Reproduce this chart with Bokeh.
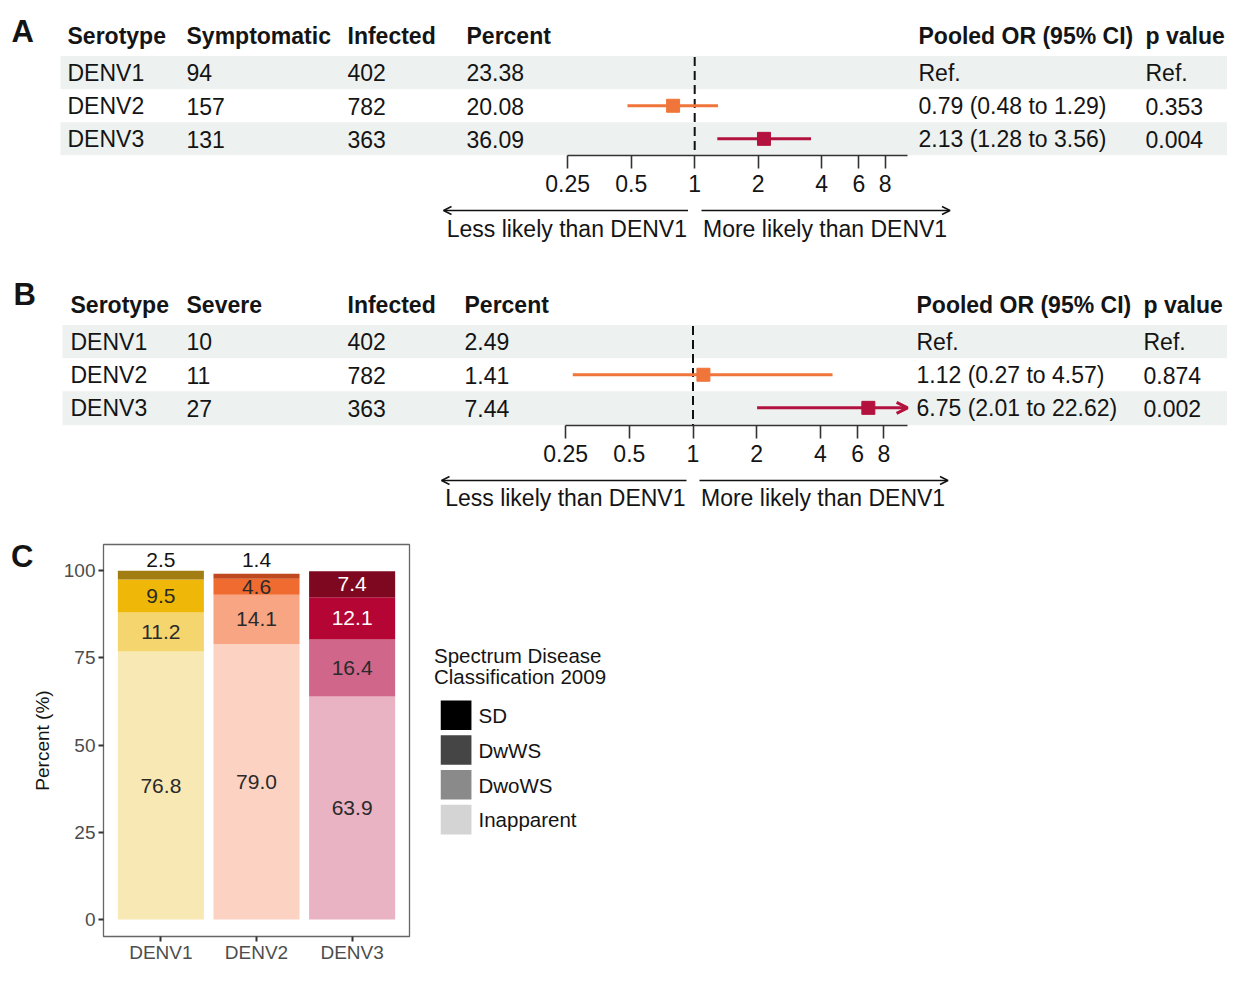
from bokeh.plotting import figure
from bokeh.models import (Range1d, FactorRange, LogScale, LogAxis, LinearAxis, FixedTicker,
                          CustomJSTickFormatter, Arrow, OpenHead, ColumnDataSource)
from bokeh.layouts import column, row
from bokeh.embed import file_html
from bokeh.resources import INLINE
from bokeh.core.properties import value

FONT = "Liberation Sans"
TXT = "#141414"

# ---------------- data ----------------
serotypes = ["DENV1", "DENV2", "DENV3"]
infected = [402, 782, 363]

# Panel A: symptomatic infection
symptomatic = [94, 157, 131]
pct_symptomatic = [23.38, 20.08, 36.09]
or_sympt = [None, 0.79, 2.13]
lo_sympt = [None, 0.48, 1.28]
hi_sympt = [None, 1.29, 3.56]
p_sympt = ["Ref.", "0.353", "0.004"]

# Panel B: severe disease
severe = [10, 11, 27]
pct_severe = [2.49, 1.41, 7.44]
or_severe = [None, 1.12, 6.75]
lo_severe = [None, 0.27, 2.01]
hi_severe = [None, 4.57, 22.62]
p_severe = ["Ref.", "0.874", "0.002"]

or_ticks = [0.25, 0.5, 1, 2, 4, 6, 8]

# Panel C: disease spectrum (percent)
classes = ["SD", "DwWS", "DwoWS", "Inapparent"]
pct_SD = [2.5, 1.4, 7.4]
pct_DwWS = [9.5, 4.6, 12.1]
pct_DwoWS = [11.2, 14.1, 16.4]
pct_Inapparent = [76.8, 79.0, 63.9]
c_yticks = [0, 25, 50, 75, 100]

# ---------------- styles ----------------
sero_color = {"DENV2": "#F0753A", "DENV3": "#B3123F"}
bar_colors = {
    "DENV1": {"SD": "#A27E12", "DwWS": "#EFB808", "DwoWS": "#F5D56E", "Inapparent": "#F8E8B4"},
    "DENV2": {"SD": "#C0481E", "DwWS": "#F06B30", "DwoWS": "#F7A582", "Inapparent": "#FCD3C3"},
    "DENV3": {"SD": "#7D0820", "DwWS": "#B40535", "DwoWS": "#D0668A", "Inapparent": "#E9B3C3"},
}
legend_colors = ["#000000", "#454545", "#8A8A8A", "#D4D4D4"]
BAND = "#EDF1EF"
W = 1227
FS = "23px"


def lum(h):
    r, g, b = (int(h[i:i + 2], 16) / 255 for i in (1, 3, 5))
    return 0.2126 * r + 0.7152 * g + 0.0722 * b


def strip_fig(height, y_top, y_bot, border_bottom, c=None, k=63.55):
    p = figure(width=W, height=height, x_range=Range1d(0, W), y_range=Range1d(y_bot, y_top),
               x_axis_type=None, y_axis_type=None, output_backend="svg", toolbar_location=None,
               min_border_left=0, min_border_right=0, min_border_top=0,
               min_border_bottom=border_bottom)
    p.outline_line_color = None
    p.background_fill_color = "white"
    p.border_fill_color = "white"
    if c is not None:
        p.extra_x_ranges = {"or": Range1d(2 ** ((0 - c) / k), 2 ** ((W - c) / k))}
        p.extra_x_scales = {"or": LogScale()}
    return p


def texts(p, xs, ys, ts, bold=False, size=FS, align="left", color=TXT):
    p.text(x=xs, y=ys, text=ts, text_font=value(FONT), text_font_size=size,
           text_font_style="bold" if bold else "normal", text_align=align,
           text_baseline="middle", text_color=color)


def or_text(o, l, h):
    return "Ref." if o is None else f"{o:.2f} ({l:.2f} to {h:.2f})"


def panel_table(p, off, letter, letter_x, letter_y, col_x, headers, counts, pcts, ors, los, his, ps,
                band_left, xmax, axis_y):
    top0 = 55.6 + off
    rh = 33.1
    band_tops = [top0 + rh * i for i in range(3)]
    centers = [t + rh / 2 for t in band_tops]
    # striped rows
    p.quad(left=band_left, right=1243, top=[band_tops[0], band_tops[2]],
           bottom=[band_tops[0] + rh, axis_y], fill_color=BAND, line_color=None)
    # panel letter
    texts(p, [letter_x], [letter_y], [letter], bold=True, size="31px")
    # headers
    texts(p, col_x, [35.8 + off] * len(col_x), headers, bold=True)
    # rows
    for i, s in enumerate(serotypes):
        row_vals = [s, str(counts[i]), str(infected[i]), f"{pcts[i]:.2f}",
                    or_text(ors[i], los[i], his[i]), ps[i]]
        texts(p, col_x, [centers[i] + 0.3] * 6, row_vals)
    # reference line
    p.segment(x0=[1], x1=[1], y0=[top0 + 1], y1=[axis_y], x_range_name="or",
              line_color="#111111", line_width=2, line_dash="9 5")
    # estimates
    for i, (o, l, h) in enumerate(zip(ors, los, his)):
        if o is None:
            continue
        col = sero_color[serotypes[i]]
        y = centers[i]
        if h > xmax:
            p.add_layout(Arrow(x_start=l, y_start=y, x_end=xmax, y_end=y, x_range_name="or",
                               line_color=col, line_width=3,
                               end=OpenHead(size=11, line_color=col, line_width=3)))
        else:
            p.segment(x0=[l], x1=[h], y0=[y], y1=[y], x_range_name="or",
                      line_color=col, line_width=3)
        p.scatter(x=[o], y=[y], marker="square", size=13, fill_color=col, line_color=col,
                  x_range_name="or")
    ax = LogAxis(x_range_name="or", ticker=FixedTicker(ticks=or_ticks, minor_ticks=[]),
                 formatter=CustomJSTickFormatter(code="return tick.toString()"),
                 bounds=(min(or_ticks), xmax), major_tick_out=13, major_tick_in=0,
                 minor_tick_out=0, minor_tick_in=0, axis_line_color="#333333",
                 axis_line_width=1.6, major_tick_line_color="#333333", major_tick_line_width=1.6,
                 major_label_standoff=6, major_label_text_font=FONT,
                 major_label_text_font_size=FS, major_label_text_color=TXT)
    p.add_layout(ax, "below")


def direction(p, y_line, y_text, x_l_end, x_l, x_r, x_r_end):
    p.add_layout(Arrow(x_start=x_l, y_start=y_line, x_end=x_l_end, y_end=y_line,
                       line_color="#111111", line_width=1.5,
                       end=OpenHead(size=8, line_color="#111111", line_width=1.5)))
    p.add_layout(Arrow(x_start=x_r, y_start=y_line, x_end=x_r_end, y_end=y_line,
                       line_color="#111111", line_width=1.5,
                       end=OpenHead(size=8, line_color="#111111", line_width=1.5)))
    texts(p, [x_l - 1], [y_text], ["Less likely than DENV1"], align="right")
    texts(p, [x_r + 1.5], [y_text], ["More likely than DENV1"], align="left")


# ---------------- Panel A ----------------
fA = strip_fig(200, 0, 155, 45, c=694.2, k=63.5)
panel_table(fA, 0, "A", 11, 30.5, [67, 186, 347, 466, 918, 1145],
            ["Serotype", "Symptomatic", "Infected", "Percent", "Pooled OR (95% CI)", "p value"],
            symptomatic, pct_symptomatic, or_sympt, lo_sympt, hi_sympt, p_sympt,
            60, 10.2, 155)

# ---------------- A arrows + Panel B ----------------
OFF_B = 269
fB = strip_fig(270, 200, 155 + OFF_B + 1, 45, c=692.5, k=63.65)
direction(fB, 210, 228.8, 443, 687.5, 701, 949.5)
panel_table(fB, OFF_B, "B", 13, 299.5 - 6, [70, 186, 347, 464, 916, 1143],
            ["Serotype", "Severe", "Infected", "Percent", "Pooled OR (95% CI)", "p value"],
            severe, pct_severe, or_severe, lo_severe, hi_severe, p_severe,
            62, 10.35, 155 + OFF_B + 1)

# ---------------- B arrows ----------------
fB2 = strip_fig(58, 470, 528, 0)
direction(fB2, 210 + OFF_B + 1, 228.8 + OFF_B, 441, 686, 699, 947.5)

# ---------------- Panel C ----------------
vals = {"SD": pct_SD, "DwWS": pct_DwWS, "DwoWS": pct_DwoWS, "Inapparent": pct_Inapparent}
stack_order = ["Inapparent", "DwoWS", "DwWS", "SD"]
bx, bb, bt, bc = [], [], [], []
lx, ly, lt, lc = [], [], [], []
for j, s in enumerate(serotypes):
    base = 0.0
    for cls in stack_order:
        v = vals[cls][j]
        col = bar_colors[s][cls]
        bx.append(s); bb.append(base); bt.append(base + v); bc.append(col)
        lx.append(s); lt.append(f"{v:.1f}")
        if cls == "SD" and v < 5:
            ly.append(103.0); lc.append(TXT)
        else:
            ly.append(base + v / 2); lc.append("white" if lum(col) < 0.35 else "#2a2a2a")
        base += v

pc = figure(width=420, height=437,
            x_range=FactorRange(factors=serotypes, range_padding=0.1, range_padding_units="absolute"),
            y_range=Range1d(-4.86, 107.5), output_backend="svg", toolbar_location=None,
            min_border_left=103, min_border_right=11, min_border_top=16, min_border_bottom=27)
pc.vbar(x="x", top="top", bottom="bottom", width=0.9, fill_color="color", line_color=None,
        source=ColumnDataSource(dict(x=bx, top=bt, bottom=bb, color=bc)))
pc.text(x="x", y="y", text="t", text_color="c", text_font=value(FONT), text_font_size="21px",
        text_align="center", text_baseline="middle",
        source=ColumnDataSource(dict(x=lx, y=ly, t=lt, c=lc)))
pc.xgrid.visible = False
pc.ygrid.visible = False
pc.yaxis.ticker = FixedTicker(ticks=c_yticks, minor_ticks=[])
pc.yaxis.axis_label = "Percent (%)"
pc.yaxis.axis_label_text_font = FONT
pc.yaxis.axis_label_text_font_size = "19px"
pc.yaxis.axis_label_text_font_style = "normal"
pc.yaxis.axis_label_text_color = TXT
pc.yaxis.axis_label_standoff = 8
for ax in (pc.xaxis[0], pc.yaxis[0]):
    ax.axis_line_color = None
    ax.major_tick_out = 5
    ax.major_tick_in = 0
    ax.minor_tick_out = 0
    ax.minor_tick_in = 0
    ax.major_tick_line_color = "#333333"
    ax.major_tick_line_width = 2
    ax.major_label_text_font = FONT
    ax.major_label_text_font_size = "19px"
    ax.major_label_text_color = "#4D4D4D"
pc.yaxis.major_label_standoff = 3
pc.xaxis.major_label_standoff = 0
pc.outline_line_color = "#666666"
pc.outline_line_width = 1.3
pc.background_fill_color = "white"
pc.border_fill_color = "white"
# panel letter "C" (outer left axis carrying only the letter)
pc.add_layout(LinearAxis(ticker=FixedTicker(ticks=[104.0], minor_ticks=[]),
                         formatter=CustomJSTickFormatter(code='return "C"'),
                         axis_line_color=None, major_tick_line_color=None, major_tick_out=0,
                         major_tick_in=0, minor_tick_out=0, minor_tick_in=0,
                         major_label_standoff=-5, major_label_text_font=FONT,
                         major_label_text_font_size="31px", major_label_text_font_style="bold",
                         major_label_text_color=TXT), "left")

# ---------------- legend ----------------
DL = 11
pl = figure(width=W - 420, height=437, x_range=Range1d(420, W), y_range=Range1d(965 + DL, 528 + DL),
            x_axis_type=None, y_axis_type=None, output_backend="svg", toolbar_location=None,
            min_border_left=0, min_border_right=0, min_border_top=0, min_border_bottom=0)
pl.outline_line_color = None
texts(pl, [433.5, 433.5], [662.3, 686.3], ["Spectrum Disease", "Classification 2009"], size="20.5px")
key_y = [729.3 + 38.8 * i for i in range(len(classes))]
pl.rect(x=[455.6] * len(classes), y=key_y, width=30.7, height=33, fill_color=legend_colors,
        line_color=None)
texts(pl, [478] * len(classes), [y + 0.3 for y in key_y], classes, size="20.5px")

layout = column(fA, fB, fB2, row(pc, pl))
open("out.html", "w").write(file_html(layout, INLINE, "Dengue serotype outcomes"))
